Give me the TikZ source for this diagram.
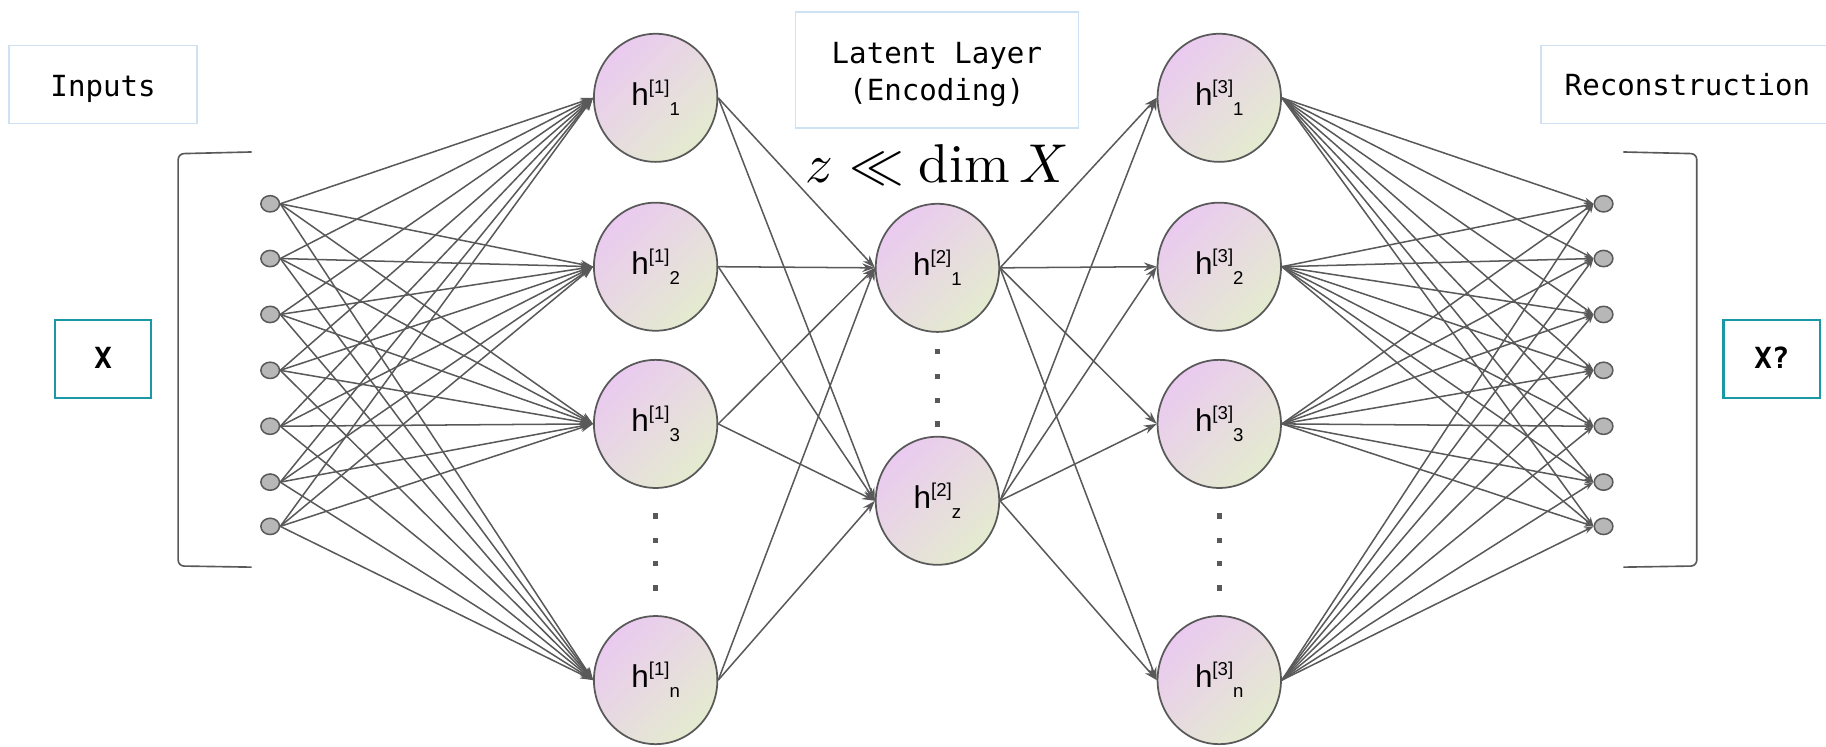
\documentclass[tikz,border=0pt]{standalone}
\usepackage{fontspec}
\newfontfamily\monof{DejaVu Sans Mono}
\newfontfamily\arialf{Liberation Sans}
\usetikzlibrary{shapes.geometric,arrows.meta}
\definecolor{edgecol}{HTML}{595959}
\definecolor{pinkc}{HTML}{EACAF0}
\definecolor{greenc}{HTML}{E4EBCF}
\definecolor{lblue}{HTML}{CFE2F3}
\definecolor{tealc}{HTML}{1A98A6}
\definecolor{dotgrey}{HTML}{B7B7B7}
\newcommand{\hlab}[2]{{\arialf\fontsize{27}{27}\selectfont h\raisebox{10pt}{\fontsize{16}{16}\selectfont[#1]}\raisebox{-9pt}{\fontsize{16}{16}\selectfont #2}}}
\begin{document}
\begin{tikzpicture}[x=1pt,y=-1pt,
  edgeline/.style={draw=edgecol, line width=1.3pt},
  bigarrow/.style={edgeline, -{Stealth[length=11pt,width=7.5pt]}},
  smallarrow/.style={edgeline, -{Stealth[length=8pt,width=5.5pt]}},
  hnode/.style={ellipse, draw=edgecol, line width=1.5pt, minimum width=106pt, minimum height=110pt, inner sep=0pt, top color=pinkc, bottom color=greenc, shading angle=45},
  ionode/.style={ellipse, draw=edgecol, fill=dotgrey, line width=1.3pt, minimum width=16pt, minimum height=14pt, inner sep=0pt},
  lbltext/.style={anchor=base, font=\monof\fontsize{25}{25}\selectfont, inner sep=0pt},
  lblbox/.style={draw=lblue, line width=1.5pt},
  xbox/.style={draw=tealc, line width=1.8pt},
  vdot/.style={rectangle, fill=edgecol, minimum size=4.5pt, inner sep=0pt},
  brack/.style={draw=edgecol, line width=1.4pt, rounded corners=5pt},
]
\useasboundingbox (0,0) rectangle (1568,641);

% label boxes
\draw[lblbox] (8,39) rectangle (169,106);
\node[lbltext] (tinp) at (88.5,82.5) {Inputs};
\draw[lblbox] (683,10) rectangle (926,110);
\node[lbltext] (tlat1) at (804.5,54.4) {Latent Layer};
\node[lbltext] (tlat2) at (804.5,86) {(Encoding)};
\draw[lblbox] (1568,39) -- (1323,39) -- (1323,106) -- (1568,106);
\node[lbltext] (trec) at (1449,82) {Reconstruction};

% X boxes
\draw[xbox] (47,275) rectangle (130,342);
\node[lbltext, font=\monof\bfseries\fontsize{25}{25}\selectfont] (tx) at (88.5,316) {X};
\draw[xbox] (1480,275) rectangle (1563,342);
\node[lbltext, font=\monof\bfseries\fontsize{25}{25}\selectfont] (txq) at (1521.5,316) {X?};

% formula
\node[anchor=base, inner sep=0pt, scale=4.7] (form) at (805,157) {$z \ll \dim X$};

% brackets
\draw[brack] (216,130.5) -- (153,132) -- (153,486) -- (216,487);
\draw[brack] (1394,130.5) -- (1457,132) -- (1457,486) -- (1394,487);

% input and output nodes
\foreach \i/\y in {1/175,2/222,3/270,4/318,5/366,6/414,7/452}{
  \node[ionode] (in\i) at (232,\y) {};
  \node[ionode] (o\i) at (1377,\y) {};
}

% hidden nodes
\node[hnode] (a1) at (563,84) {\hlab{1}{1}};
\node[hnode] (a2) at (563,229) {\hlab{1}{2}};
\node[hnode] (a3) at (563,364) {\hlab{1}{3}};
\node[hnode] (an) at (563,584) {\hlab{1}{n}};
\node[hnode] (b1) at (805,230) {\hlab{2}{1}};
\node[hnode] (bz) at (805,430) {\hlab{2}{z}};
\node[hnode] (c1) at (1047,84) {\hlab{3}{1}};
\node[hnode] (c2) at (1047,229) {\hlab{3}{2}};
\node[hnode] (c3) at (1047,364) {\hlab{3}{3}};
\node[hnode] (cn) at (1047,584) {\hlab{3}{n}};

% vertical dots
\foreach \k/\y in {1/443,2/464,3/484,4/505}{
  \node[vdot] (da\k) at (563,\y) {};
  \node[vdot] (dc\k) at (1047,\y) {};
}
\foreach \k/\y in {1/302,2/323,3/344,4/364}{
  \node[vdot] (db\k) at (805,\y) {};
}

% connections
\foreach \i in {1,...,7}{
  \foreach \j in {1,2,3,n}{
    \draw[bigarrow] (in\i.east) -- (a\j.west);
    \draw[smallarrow] (c\j.east) -- (o\i.west);
  }
}
\foreach \j in {1,2,3,n}{
  \foreach \k in {1,z}{
    \draw[bigarrow] (a\j.east) -- (b\k.west);
    \draw[bigarrow] (b\k.east) -- (c\j.west);
  }
}
\end{tikzpicture}
\end{document}
